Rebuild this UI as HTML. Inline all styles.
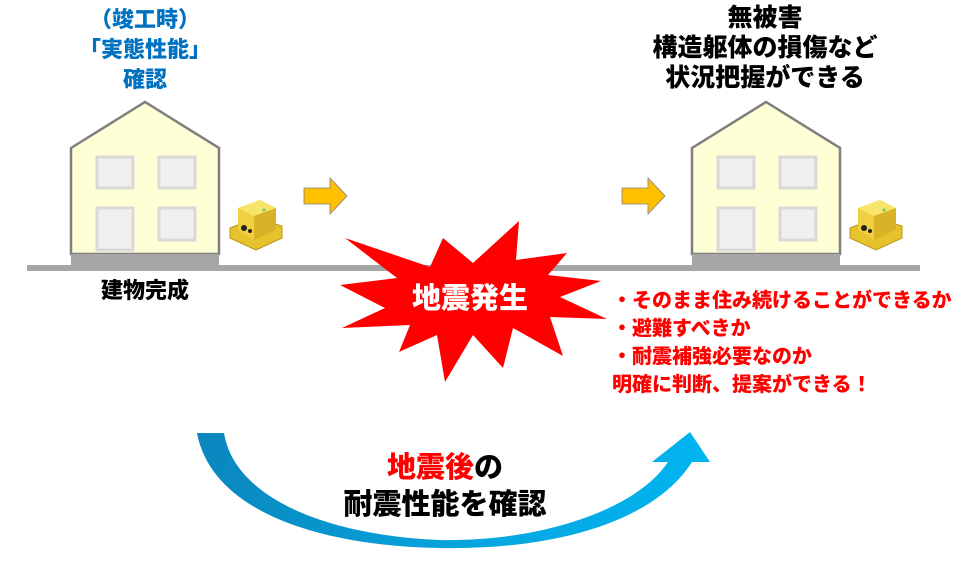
<!DOCTYPE html>
<html><head><meta charset="utf-8"><style>
html,body{margin:0;padding:0;background:#fff;}
body{width:971px;height:564px;position:relative;overflow:hidden;font-family:"Liberation Sans","Noto Sans CJK JP",sans-serif;font-weight:900;}
.t{position:absolute;text-align:center;white-space:nowrap;}
</style></head><body>
<svg width="971" height="564" style="position:absolute;left:0;top:0">
<defs>
<linearGradient id="g" x1="0" x2="1" y1="0" y2="0">
<stop offset="0" stop-color="#0a86bd"/><stop offset="0.55" stop-color="#06a6df"/><stop offset="1" stop-color="#00b4f0"/>
</linearGradient>
<g id="house">
<polygon points="0,48 74,2 148,48 148,154 0,154" fill="#ffffd5" stroke="#7f7f7f" stroke-width="2.5"/>
<rect x="26" y="57" width="36" height="31" fill="#f0f0f0" stroke="#d9d9d9" stroke-width="3"/>
<rect x="88" y="57" width="36" height="31" fill="#f0f0f0" stroke="#d9d9d9" stroke-width="3"/>
<rect x="26" y="108" width="36" height="42" fill="#f0f0f0" stroke="#d9d9d9" stroke-width="3"/>
<rect x="88" y="108" width="36" height="32" fill="#f0f0f0" stroke="#d9d9d9" stroke-width="3"/>
<rect x="0" y="154" width="148" height="15" fill="#a6a6a6"/>
</g>
<g id="dev">
<polygon points="0,30 25,20 52,28 52,40 26,52 0,40" fill="#e6c22c" stroke="#b8961a"/>
<polygon points="8,10 30,2 46,10 46,32 24,42 8,32" fill="#f0d040"/>
<polygon points="8,10 30,2 46,10 24,18" fill="#f7e46a"/>
<polygon points="24,18 46,10 46,32 24,42" fill="#d9b228"/>
<circle cx="14" cy="30" r="3" fill="#222"/><circle cx="20" cy="33" r="2" fill="#222"/>
<circle cx="34" cy="12" r="1.5" fill="#6c6"/>
</g>
<polygon id="arr" points="0,10 26,10 26,0 43,18 26,36 26,26 0,26" fill="#ffc000" stroke="#7f7f7f" stroke-width="0.8"/>
</defs>
<rect x="27" y="265" width="893" height="6" fill="#a6a6a6"/>
<use href="#house" x="71" y="100"/>
<use href="#house" x="692" y="100"/>
<use href="#dev" x="230" y="198"/>
<use href="#dev" x="850" y="198"/>
<use href="#arr" x="304" y="178"/>
<use href="#arr" x="622" y="178"/>
<polygon points="345,238 430,267 443,238 473,263 519,221 516,260 567,253 548,275 601,281 560,297 607,319 550,317 563,356 513,328 503,368 473,335 445,382 437,335 399,352 410,325 342,328 385,308 340,285 397,278" fill="#ff0000"/>
<path d="M197,433 L224,433 C234,495 320,535 440,540 C540,542 636,510 668,462 L652,462 L690,432 L710,462 L692,462 C655,520 560,550 440,548 C320,546 212,512 197,433 Z" fill="url(#g)"/>
</svg>
<div class="t" style="left:40px;top:5px;width:210px;font-size:22px;line-height:30px;color:#0070c0;">（竣工時）<br>「実態性能」<br>確認</div>
<div class="t" style="left:60px;top:273px;width:170px;font-size:22px;color:#000;">建物完成</div>
<div class="t" style="left:590px;top:3px;width:350px;font-size:25px;line-height:30px;color:#000;">無被害<br>構造躯体の損傷など<br>状況把握ができる</div>
<div class="t" style="left:370px;top:275px;width:200px;font-size:29px;color:#fff;">地震発生</div>
<div class="t" style="left:612px;top:287px;text-align:left;font-size:20px;line-height:28px;color:#ff0000;">・そのまま住み続けることができるか<br>・避難すべきか<br>・耐震補強必要なのか<br>明確に判断、提案ができる！</div>
<div class="t" style="left:290px;top:450px;width:310px;font-size:29px;line-height:37px;color:#000;"><span style="color:#ff0000">地震後</span>の<br>耐震性能を確認</div>
</body></html>
